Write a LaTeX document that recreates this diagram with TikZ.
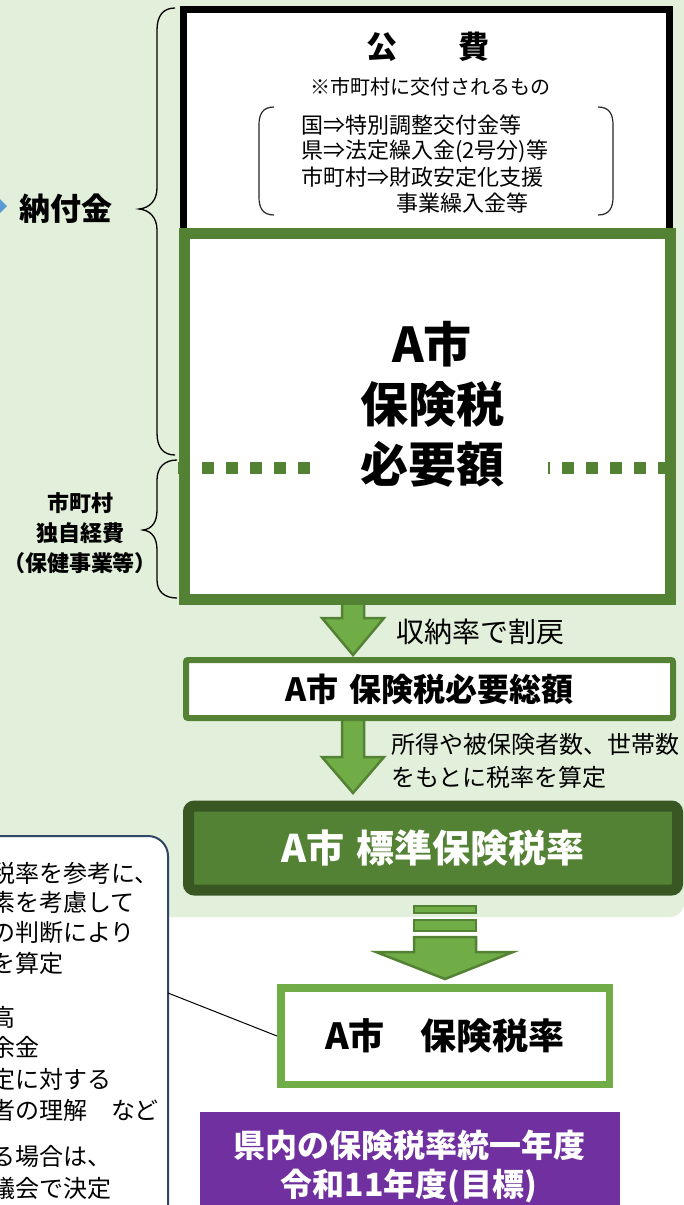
\documentclass[tikz,border=0pt]{standalone}
\usepackage{fontspec}
\setmainfont{Noto Sans CJK JP}
\definecolor{bgc}{HTML}{E2EFDA}
\definecolor{mgreen}{HTML}{548235}
\definecolor{lgreen}{HTML}{70AD47}
\definecolor{dgreen}{HTML}{385723}
\definecolor{purp}{HTML}{7030A0}
\definecolor{bluec}{HTML}{5B9BD5}
\definecolor{navy}{HTML}{2E4667}
\begin{document}
\begin{tikzpicture}[x=1pt,y=-1pt,
  txt/.style={inner sep=0pt, outer sep=0pt},
  arr/.style={fill=lgreen, draw=mgreen, line width=2.5pt, line join=miter},
  bracestyle/.style={draw=black, line width=1.3pt},
  paren/.style={draw=black!85, line width=1.2pt}]
\useasboundingbox (0,0) rectangle (684,1205);
\clip (0,0) rectangle (684,1205);
\fill[white] (0,0) rectangle (684,1205);
\fill[bgc, rounded corners=14] (-30,-30) rectangle (684,917);

% braces
\draw[bracestyle] (175,8) .. controls (163,8) and (157,16) .. (157,30) -- (157,188)
  .. controls (157,200) and (150,208) .. (139,209) .. controls (150,210) and (157,218) .. (157,230)
  -- (157,433) .. controls (157,447) and (163,455) .. (175,455);
\draw[bracestyle] (177,460) .. controls (165,460) and (157,467) .. (157,480) -- (157,510)
  .. controls (157,522) and (152,529) .. (143,530) .. controls (152,531) and (157,538) .. (157,550)
  -- (157,580) .. controls (157,592) and (165,598) .. (177,598);

% blue arrow tip
\fill[bluec] (-3,196) -- (7,206) -- (-3,216) -- cycle;
\node[txt, font=\fontsize{31}{36}\selectfont\bfseries] (noufu) at (66,209) {納付金};
\node[txt, font=\fontsize{22}{30}\selectfont\bfseries, align=center] (dokuji) at (80,533) {市町村\\独自経費\\（保健事業等）};

% block arrows
\draw[arr] (342,598) -- (364,598) -- (364,618) -- (384,618) -- (353,655) -- (322,618) -- (342,618) -- cycle;
\draw[arr] (342,716) -- (364,716) -- (364,757) -- (384,757) -- (353,793) -- (322,757) -- (342,757) -- cycle;

% public funds box
\node[draw=black, line width=7pt, fill=white, minimum width=486pt, minimum height=223pt, inner sep=0pt] (kouhi) at (426.5,121) {};
\node[txt, font=\fontsize{31}{36}\selectfont\bfseries] (kouhiT) at (428,47) {公\hspace{1.97em}費};
\node[txt, font=\fontsize{20}{24}\selectfont] (note) at (430,87) {※市町村に交付されるもの};
\draw[paren] (274,107) .. controls (262,107) and (259,115) .. (259,125) -- (259,197) .. controls (259,207) and (262,215) .. (274,215);
\draw[paren] (598,107) .. controls (610,107) and (613,115) .. (613,125) -- (613,197) .. controls (613,207) and (610,215) .. (598,215);
\node[txt, anchor=west, font=\fontsize{22}{26}\selectfont] (l1) at (301,125) {国⇒特別調整交付金等};
\node[txt, anchor=west, font=\fontsize{22}{26}\selectfont] (l2) at (301,151) {県⇒法定繰入金(2号分)等};
\node[txt, anchor=west, font=\fontsize{22}{26}\selectfont] (l3) at (301,177) {市町村⇒財政安定化支援};
\node[txt, anchor=west, font=\fontsize{22}{26}\selectfont] (l4) at (396,203) {事業繰入金等};

% required amount box
\node[draw=mgreen, line width=11pt, fill=white, minimum width=486pt, minimum height=366pt, inner sep=0pt] (hitsuyo) at (427.5,416.5) {};
\draw[mgreen, line width=12pt, dash pattern=on 12pt off 12pt] (178,468) -- (672,468);
\fill[white] (311,455) rectangle (548,481);
\node[txt, font=\fontsize{48}{60}\selectfont\bfseries, align=center] (hitsuyoT) at (432,404) {A市\\保険税\\必要額};

% labels of arrows
\node[txt, anchor=west, font=\fontsize{28}{32}\selectfont] (shuno) at (396,632) {収納率で割戻};
\node[txt, anchor=west, font=\fontsize{24}{28}\selectfont] (shotoku1) at (391,744) {所得や被保険者数、世帯数};
\node[txt, anchor=west, font=\fontsize{24}{28}\selectfont] (shotoku2) at (391,777) {をもとに税率を算定};

% total amount box
\node[draw=mgreen, line width=6pt, fill=white, rounded corners=2pt, minimum width=487pt, minimum height=58pt, inner sep=0pt,
  font=\fontsize{32}{36}\selectfont\bfseries] (total) at (429.5,689) {A市\hspace{0.35em}保険税必要総額};

% standard rate box
\node[draw=dgreen, line width=11pt, fill=mgreen, rounded corners=6pt, minimum width=489pt, minimum height=84pt, inner sep=0pt,
  text=white, font=\fontsize{38}{42}\selectfont\bfseries] (standard) at (433,848) {A市\hspace{0.3em}標準保険税率};

% striped arrow
\draw[arr] (414,906) rectangle (476,913);
\draw[arr] (414,920) rectangle (476,931);
\draw[arr] (414,937) -- (476,937) -- (476,952) -- (513,952) -- (445,979) -- (376,952) -- (414,952) -- cycle;

% callout
\node[draw=navy, line width=2pt, fill=white, rounded corners=20pt, minimum width=198pt, minimum height=404pt, inner sep=0pt] (callout) at (69,1038) {};
\foreach \t/\y [count=\i] in {税率を参考に、/873, 素を考慮して/902, の判断により/932, を算定/963, 高/1017, 余金/1047, 定に対する/1079, 者の理解　など/1110, る場合は、/1156, 議会で決定/1188}
  \node[txt, anchor=west, font=\fontsize{24}{28}\selectfont] (c\i) at (-9,\y) {\t};

% final rate box
\node[draw=lgreen, line width=7.5pt, fill=white, minimum width=328.5pt, minimum height=96.5pt, inner sep=0pt,
  font=\fontsize{36}{40}\selectfont\bfseries] (rate) at (445,1036) {A市　保険税率};
\coordinate (cstart) at (168,993);
\draw[black, line width=1pt] (cstart) -- (rate.west);

% purple box
\node[fill=purp, minimum width=420pt, minimum height=103pt, inner sep=0pt] (purple) at (410,1163.5) {};
\node[txt, text=white, align=center, font=\fontsize{32}{39}\selectfont\bfseries] (purpleT) at (409,1167) {県内の保険税率統一年度\\令和11年度(目標)};
\end{tikzpicture}
\end{document}
